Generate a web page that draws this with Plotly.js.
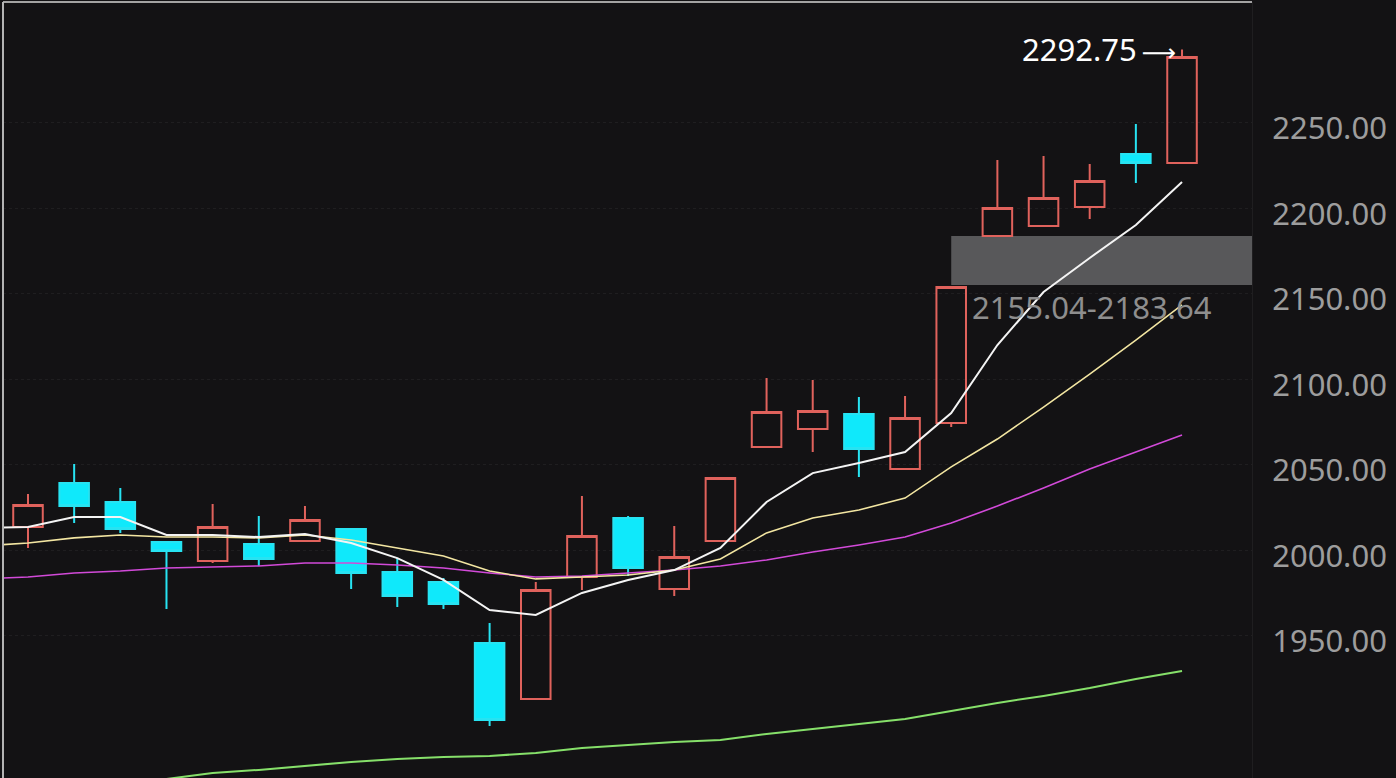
<!DOCTYPE html>
<html>
<head>
<meta charset="utf-8">
<script src="https://cdn.plot.ly/plotly-3.0.1.min.js"></script>
<style>
  html, body { margin: 0; padding: 0; background: #131214; }
  #chart { width: 1396px; height: 778px; }
</style>
</head>
<body>
<div id="chart"></div>
<script>
// ---- data ----
const dayIndex = [0, 1, 2, 3, 4, 5, 6, 7, 8, 9, 10, 11, 12, 13, 14, 15, 16, 17, 18, 19, 20, 21, 22, 23, 24, 25];
const openPrices  = [2013.5, 2039.2, 2028.1, 2004.7, 1993.6, 2003.5, 2005.3, 2012.3, 1987.2, 1981.3, 1945.6, 1912.9, 1984.2, 2018.7, 1977.2, 2005.3, 2060.3, 2070.8, 2079.5, 2047.4, 2074.3, 2183.6, 2189.5, 2200.6, 2231.6, 2226.3];
const highPrices  = [2032.8, 2050.3, 2036.3, 2005.3, 2026.9, 2019.9, 2025.7, 2012.3, 1995.3, 1983.6, 1957.3, 1981.3, 2031.6, 2019.9, 2014.1, 2042.1, 2100.6, 2099.4, 2089.5, 2090.1, 2153.8, 2228.1, 2230.4, 2225.7, 2249.1, 2292.75];
const lowPrices   = [2001.2, 2015.8, 2010.0, 1965.5, 1992.4, 1990.7, 2005.3, 1977.2, 1966.7, 1965.5, 1897.1, 1912.9, 1976.6, 1984.8, 1973.1, 2005.3, 2060.3, 2057.3, 2042.7, 2047.4, 2071.9, 2183.6, 2189.5, 2193.6, 2214.6, 2226.3];
const closePrices = [2026.3, 2025.7, 2012.3, 1999.4, 2013.5, 1994.8, 2017.6, 1986.6, 1973.1, 1968.4, 1900.6, 1976.6, 2008.2, 1989.5, 1995.9, 2042.1, 2080.7, 2081.3, 2059.1, 2077.2, 2153.8, 2200.0, 2205.9, 2215.8, 2226.3, 2288.3];

// moving-average lines (start one period before the first visible candle)
const maIndex = [-1, 0, 1, 2, 3, 4, 5, 6, 7, 8, 9, 10, 11, 12, 13, 14, 15, 16, 17, 18, 19, 20, 21, 22, 23, 24, 25];
const ma5  = [2012.9, 2013.5, 2019.3, 2019.3, 2008.8, 2008.8, 2007.6, 2009.4, 2004.1, 1995.3, 1982.5, 1964.9, 1962.0, 1974.9, 1982.5, 1988.3, 2001.2, 2028.1, 2045.0, 2050.9, 2057.3, 2080.1, 2119.9, 2150.9, 2170.8, 2190.1, 2215.2];
const ma10 = [2002.4, 2004.1, 2007.1, 2008.8, 2007.6, 2007.6, 2007.1, 2008.8, 2005.9, 2001.2, 1996.5, 1987.7, 1983.1, 1984.2, 1985.4, 1988.3, 1994.8, 2010.0, 2018.7, 2023.4, 2030.4, 2048.6, 2064.9, 2083.6, 2102.9, 2122.8, 2143.3];
const ma20 = [1983.1, 1984.2, 1986.6, 1987.7, 1989.5, 1990.1, 1990.7, 1992.4, 1992.4, 1991.2, 1989.5, 1986.6, 1984.2, 1984.8, 1986.6, 1988.3, 1990.7, 1994.2, 1998.8, 2002.9, 2007.6, 2015.8, 2025.7, 2036.3, 2047.4, 2057.3, 2067.3];
const longMaIndex = [3, 4, 5, 6, 7, 8, 9, 10, 11, 12, 13, 14, 15, 16, 17, 18, 19, 20, 21, 22, 23, 24, 25];
const ma60 = [1866.1, 1869.6, 1871.4, 1873.7, 1876.1, 1877.8, 1879.0, 1879.6, 1881.3, 1884.2, 1886.0, 1887.8, 1888.9, 1892.4, 1895.4, 1898.3, 1901.2, 1905.9, 1910.6, 1914.7, 1919.3, 1924.6, 1929.3];

// price axis ticks
const tickValues = [1950, 2000, 2050, 2100, 2150, 2200, 2250];
const tickLabels = ['1950.00', '2000.00', '2050.00', '2100.00', '2150.00', '2200.00', '2250.00'];

// highlighted price zone and annotations
const zoneLow = 2155.04;
const zoneHigh = 2183.64;
const zoneStartIndex = 20;
const zoneLabel = '2155.04-2183.64';
const peakIndex = 25;
const peakValue = 2292.75;
const peakText = '2292.75';
const peakArrow = '\u27F6';

// ---- chart ----
const X_MIN = -0.5416, X_MAX = 26.516;
const Y_MIN = 1866.68, Y_MAX = 2320.48;
const FONT = '"Noto Sans", "Open Sans", "DejaVu Sans", sans-serif';

const traces = [
  {
    type: 'candlestick',
    x: dayIndex,
    open: openPrices,
    high: highPrices,
    low: lowPrices,
    close: closePrices,
    increasing: { line: { color: '#e0625c', width: 2 }, fillcolor: 'rgba(0,0,0,0)' },
    decreasing: { line: { color: '#27e3f2', width: 2 }, fillcolor: '#0fe9fb' },
    whiskerwidth: 0,
    hoverinfo: 'skip',
    showlegend: false
  },
  { type: 'scatter', mode: 'lines', x: maIndex, y: ma20, line: { color: '#d24ad9', width: 1.6 }, hoverinfo: 'skip', showlegend: false },
  { type: 'scatter', mode: 'lines', x: maIndex, y: ma10, line: { color: '#f3e6a2', width: 1.6 }, hoverinfo: 'skip', showlegend: false },
  { type: 'scatter', mode: 'lines', x: maIndex, y: ma5,  line: { color: '#f4f4f4', width: 2 }, hoverinfo: 'skip', showlegend: false },
  { type: 'scatter', mode: 'lines', x: longMaIndex, y: ma60, line: { color: '#86e06a', width: 2 }, hoverinfo: 'skip', showlegend: false }
];

const layout = {
  width: 1396,
  height: 778,
  margin: { l: 3, r: 144, t: 2, b: 0, pad: 0 },
  paper_bgcolor: '#131214',
  plot_bgcolor: '#131214',
  boxgap: 0.36,
  boxgroupgap: 0,
  showlegend: false,
  xaxis: {
    range: [X_MIN, X_MAX],
    showgrid: false, zeroline: false, showticklabels: false, ticks: '',
    showline: false,
    rangeslider: { visible: false },
    fixedrange: true
  },
  yaxis: {
    side: 'right',
    range: [Y_MIN, Y_MAX],
    tickmode: 'array',
    tickvals: tickValues,
    ticktext: tickLabels,
    ticks: '',
    ticklabelstandoff: 13,
    ticklabelshift: 6,
    tickfont: { family: FONT, size: 31, color: '#9d9d9d' },
    showgrid: true,
    gridcolor: '#1f1e20',
    griddash: 'dot',
    gridwidth: 1,
    zeroline: false,
    showline: true,
    linecolor: '#1f1e20',
    linewidth: 1,
    fixedrange: true
  },
  shapes: [
    { type: 'rect', xref: 'x', yref: 'y', x0: zoneStartIndex, x1: X_MAX, y0: zoneLow, y1: zoneHigh,
      fillcolor: '#58585a', line: { width: 0 }, layer: 'below' },
    { type: 'line', xref: 'paper', yref: 'paper', x0: 0, x1: 1, y0: 1, y1: 1,
      line: { color: '#a3a3a3', width: 2 } },
    { type: 'line', xref: 'paper', yref: 'paper', x0: 0, x1: 0, y0: 0, y1: 1,
      line: { color: '#b4b4b4', width: 2 } }
  ],
  annotations: [
    { xref: 'x', yref: 'y', x: peakIndex, y: peakValue,
      text: peakText + '\u2009<span style="font-size:24px">' + peakArrow + '</span>', showarrow: false,
      xanchor: 'right', yanchor: 'middle', xshift: -4,
      font: { family: FONT, size: 31, color: '#ffffff' } },
    { xref: 'x', yref: 'y', x: (zoneStartIndex + X_MAX) / 2 - 0.2, y: zoneLow, text: zoneLabel, showarrow: false,
      xanchor: 'center', yanchor: 'top', yshift: 1,
      font: { family: FONT, size: 31, color: '#8e8e8e' } }
  ]
};

Plotly.newPlot('chart', traces, layout, { staticPlot: true, displayModeBar: false });
</script>
</body>
</html>
